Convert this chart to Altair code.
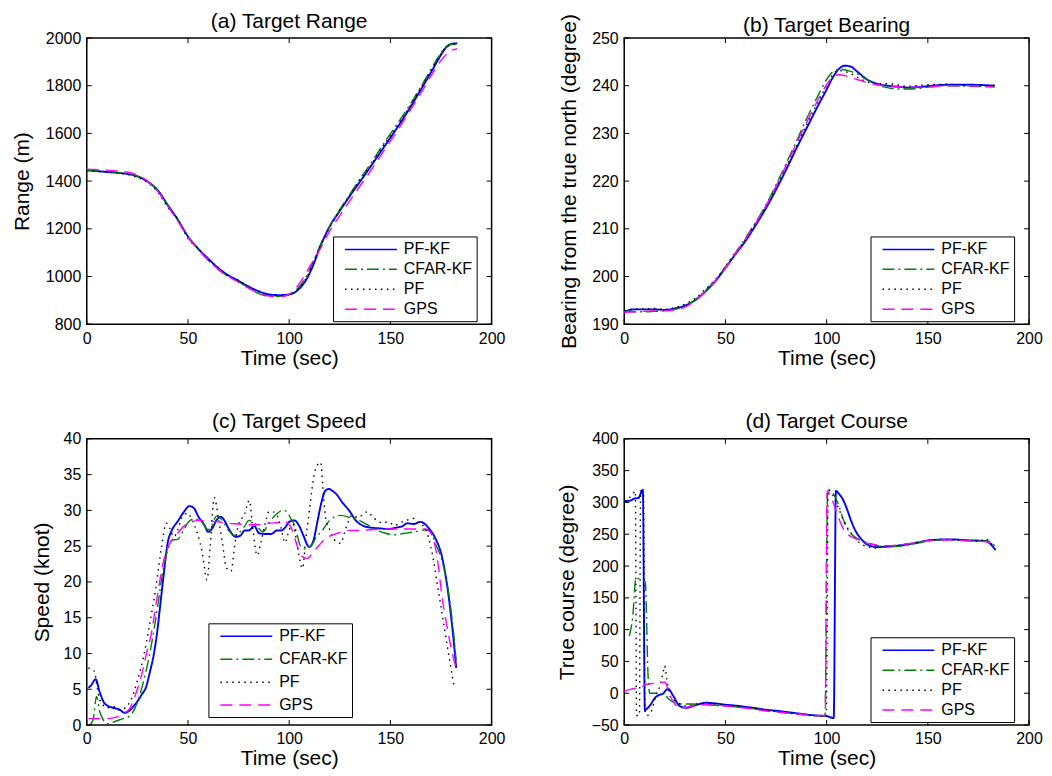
import altair as alt
import pandas as pd

FONT = "Liberation Sans"
METHODS = ["PF-KF", "CFAR-KF", "PF", "GPS"]
COLORS = ["#0000ff", "#008000", "#000000", "#ff00ff"]
DASHES = [[1, 0], [12, 4, 2, 4], [1.5, 4.5], [12, 7]]
XTICKS = [0, 50, 100, 150, 200]

# ---------------- (a) Target Range ----------------
range_pfkf_t = [0, 5, 10, 15, 20, 25, 30, 35, 40, 45, 50, 55, 60, 65, 70, 75, 80, 85, 90, 95, 100, 103, 106, 109, 112, 115, 120, 125, 130, 135, 140, 145, 150, 155, 160, 165, 170, 174, 177, 180, 183]
range_pfkf = [1445, 1442, 1438, 1435, 1430, 1420, 1398, 1362, 1300, 1238, 1168, 1117, 1075, 1035, 1005, 982, 958, 938, 925, 922, 925, 935, 958, 995, 1050, 1118, 1210, 1275, 1338, 1398, 1458, 1520, 1582, 1645, 1712, 1783, 1855, 1915, 1955, 1975, 1978]
range_cfar_t = [0, 5, 10, 15, 20, 25, 30, 35, 40, 45, 50, 55, 60, 65, 70, 75, 80, 85, 90, 95, 100, 103, 106, 109, 112, 115, 120, 125, 130, 135, 140, 145, 150, 155, 160, 165, 170, 174, 177, 180, 183]
range_cfar = [1445, 1443, 1440, 1437, 1432, 1422, 1400, 1360, 1297, 1235, 1165, 1113, 1068, 1028, 1000, 978, 952, 928, 917, 917, 925, 940, 968, 1010, 1065, 1125, 1210, 1280, 1345, 1410, 1470, 1535, 1598, 1660, 1725, 1795, 1868, 1925, 1960, 1973, 1975]
range_pf_t = [0, 5, 10, 15, 20, 25, 30, 35, 40, 45, 50, 55, 60, 65, 70, 75, 80, 85, 90, 95, 100, 103, 106, 109, 112, 115, 120, 125, 130, 135, 140, 145, 150, 155, 160, 165, 170, 174, 177, 180, 183]
range_pf = [1446, 1441, 1439, 1433, 1428, 1415, 1395, 1355, 1290, 1240, 1160, 1118, 1070, 1038, 1000, 984, 955, 936, 920, 919, 923, 937, 962, 1002, 1060, 1120, 1205, 1278, 1340, 1405, 1462, 1530, 1590, 1650, 1718, 1790, 1862, 1920, 1958, 1972, 1976]
range_gps_t = [0, 5, 10, 15, 20, 25, 30, 35, 40, 45, 50, 55, 60, 65, 70, 75, 80, 85, 90, 95, 98, 101, 104, 107, 110, 115, 120, 125, 130, 135, 140, 145, 150, 155, 160, 165, 170, 175, 178, 181, 183]
range_gps = [1450, 1448, 1446, 1443, 1438, 1425, 1400, 1358, 1295, 1232, 1165, 1115, 1070, 1030, 1000, 975, 950, 930, 918, 915, 918, 932, 958, 995, 1040, 1110, 1190, 1255, 1318, 1380, 1440, 1505, 1568, 1632, 1700, 1768, 1840, 1905, 1935, 1950, 1955]

# ---------------- (b) Target Bearing ----------------
bear_pfkf_t = [0, 5, 10, 15, 20, 25, 30, 35, 40, 45, 50, 55, 60, 65, 70, 75, 80, 85, 90, 95, 100, 103, 106, 109, 112, 115, 120, 125, 130, 135, 140, 145, 150, 155, 160, 170, 183]
bear_pfkf = [192.6, 193.1, 193.1, 193.1, 193.0, 193.3, 193.9, 195.0, 196.8, 199.0, 201.8, 204.7, 207.5, 210.8, 214.3, 218.2, 222.4, 226.8, 231.0, 235.2, 239.2, 241.7, 243.5, 244.2, 244.0, 243.0, 241.3, 240.4, 240.0, 239.8, 239.6, 239.7, 239.9, 240.1, 240.2, 240.2, 240.0]
bear_cfar_t = [0, 5, 10, 15, 20, 25, 30, 35, 40, 45, 50, 55, 60, 65, 70, 75, 80, 85, 90, 95, 100, 103, 106, 108, 111, 115, 120, 125, 130, 135, 140, 145, 150, 160, 170, 183]
bear_cfar = [192.7, 192.6, 192.6, 192.7, 192.8, 193.1, 193.8, 195.1, 197.0, 199.3, 202.0, 205.0, 208.1, 211.4, 215.0, 219.2, 223.7, 228.3, 233.0, 237.3, 241.3, 242.9, 243.4, 243.4, 243.1, 242.5, 241.2, 240.2, 239.6, 239.3, 239.3, 239.4, 239.7, 240.0, 239.9, 239.8]
bear_pf_t = [0, 5, 10, 15, 20, 25, 30, 35, 40, 45, 50, 55, 60, 65, 70, 75, 80, 85, 90, 95, 100, 103, 106, 109, 112, 115, 120, 125, 130, 140, 150, 160, 170, 183]
bear_pf = [192.8, 193.2, 193.2, 193.3, 193.1, 193.5, 194.2, 195.4, 197.3, 199.3, 202.1, 205.0, 207.9, 211.3, 214.6, 218.6, 223.0, 227.3, 231.8, 236.0, 240.0, 242.3, 243.2, 243.0, 242.5, 241.8, 240.8, 240.4, 240.4, 239.9, 240.2, 240.3, 240.1, 240.1]
bear_gps_t = [0, 5, 10, 15, 20, 25, 30, 35, 40, 45, 50, 55, 60, 65, 70, 75, 80, 85, 90, 95, 100, 103, 106, 110, 115, 120, 125, 130, 140, 150, 160, 170, 183]
bear_gps = [192.5, 192.6, 192.7, 192.8, 192.8, 193.0, 193.6, 194.9, 196.8, 199.1, 201.8, 204.8, 207.9, 211.2, 214.8, 218.9, 223.3, 227.8, 232.2, 236.4, 240.2, 241.8, 242.3, 242.0, 241.3, 240.7, 240.2, 239.9, 239.7, 239.8, 240.0, 240.0, 239.7]

# ---------------- (c) Target Speed ----------------
speed_pfkf_t = [0.8, 2, 4.4, 6.4, 8.9, 13, 16, 18.7, 21, 23, 25, 27, 29.4, 31, 33.5, 35, 36, 38, 40, 42, 45, 48, 50.7, 53, 55, 58, 60, 62, 64, 66.3, 68, 70, 73.7, 76, 78, 80, 82.7, 85.2, 88.5, 91, 94, 96, 98, 100, 102.5, 105, 107, 109.9, 112, 114, 116, 118, 119.7, 121, 123.8, 126, 129.6, 132.9, 137, 140, 144.3, 149, 153, 156, 158.3, 161.5, 164.8, 167, 169, 172.2, 175.5, 177.5, 179.6, 181, 182.5]
speed_pfkf = [5.2, 5.5, 6.4, 4.6, 3.0, 2.4, 2.2, 1.7, 2.0, 2.6, 3.3, 4.2, 5.4, 7.2, 10.5, 13.5, 16, 21, 25.5, 27.2, 28.5, 29.8, 30.6, 30.3, 29.2, 28, 27, 27.5, 28.6, 29.1, 28.6, 27.5, 26.3, 26.5, 27.2, 27.2, 27.8, 26.8, 26.7, 26.7, 27.2, 27.2, 27.6, 28.4, 28.6, 27.8, 26.5, 24.9, 25.8, 28.5, 31.2, 32.8, 33.0, 32.8, 32.1, 31.2, 30.0, 28.6, 27.8, 27.6, 27.5, 27.4, 27.6, 27.8, 28.2, 28.1, 28.4, 28.1, 27.5, 26.1, 23.5, 20.5, 16.1, 12.5, 8.0]
speed_cfar_t = [1.5, 3.2, 4.8, 6.4, 8, 10, 12, 15, 18, 21, 24, 27, 29, 31, 33, 35, 37, 40, 42, 45, 48, 50, 53, 57, 60, 62, 64, 67, 70, 73, 75, 78, 80, 83, 87, 90, 93, 96.7, 99, 100.5, 102.5, 104, 105.8, 108, 111.5, 113, 116.4, 120, 125.4, 130, 136, 141, 147.6, 152, 157, 162, 167.3, 170, 172, 175.5, 178.8, 181, 182.5]
speed_cfar = [0, 0.8, 4.0, 1.9, 0.8, 0.2, 0.3, 0.6, 0.9, 1.2, 2.5, 5, 7.2, 9.8, 13, 16.5, 20.5, 24.5, 25.8, 26, 27.3, 28.3, 28.8, 28.3, 27.3, 28, 29.2, 28.6, 27.2, 26.5, 26.8, 27.8, 28.6, 28.2, 27.0, 28.3, 29.3, 30.0, 29.8, 29, 28, 26.5, 24.9, 24.6, 25.3, 26.1, 27.2, 28.6, 29.3, 29.0, 28.4, 27.6, 26.8, 26.6, 26.8, 27.0, 27.3, 27.0, 25.5, 23.0, 18.4, 13.5, 9.0]
speed_pf_t = [0.8, 2, 3.8, 5, 6.5, 8, 10, 13, 16, 19, 22, 25, 28, 31, 34, 37, 39.3, 41, 43, 45, 47, 50, 52, 55, 57, 59.4, 61, 63, 65, 67, 69, 71.3, 73, 75, 78, 80.3, 82, 84.2, 86, 88, 90, 92, 94, 96, 98, 100, 102, 104, 106.6, 108.2, 110, 111.5, 113.6, 115.6, 116.5, 118, 120, 122, 125.4, 128, 131, 134, 138.6, 141, 143.6, 146, 149, 152, 155, 158, 161, 164, 167, 169, 171, 173, 175, 177, 179, 181.5]
speed_pf = [8, 7.8, 7.5, 5.5, 3.5, 2.8, 2.4, 2.6, 2.1, 2.4, 3.6, 6.2, 9.5, 14, 19, 25, 28.2, 27.5, 26.3, 27.3, 29, 29.6, 28.6, 26.5, 24.2, 20.3, 25, 31.8, 29, 25.5, 22, 21.5, 25, 28, 29.5, 31.4, 27.5, 23.7, 25.5, 28, 29.8, 29.8, 29.3, 27.5, 25.5, 27.3, 28, 25, 21.9, 26, 30, 33.5, 36.2, 36.7, 33.7, 29, 27.3, 26, 25.4, 27.5, 29.3, 29, 29.8, 29.2, 28.5, 28.3, 28.4, 27.9, 28.3, 28.6, 28.9, 28.2, 27.6, 26, 23.5, 20, 16.5, 13, 9.5, 5.3]
speed_gps_t = [0.8, 5, 10, 14.6, 18, 21.2, 24, 27.7, 29.5, 31.9, 34, 36, 38, 40, 42, 45, 48, 50, 53, 56, 60, 65, 70, 75, 80, 85, 90, 95, 98, 99.5, 101.6, 104, 106, 109, 112, 115, 118, 122, 126, 130, 134.5, 140, 150, 160, 165, 167.3, 169, 170.5, 172.2, 173.8, 175.5, 177.5, 179.5, 181, 182.5]
speed_gps = [0.9, 0.9, 0.9, 1.1, 1.6, 2.3, 4.2, 7.7, 10, 12.8, 16.5, 20, 23, 24.8, 25.8, 26.8, 27.8, 28.2, 28.5, 28.6, 28.5, 28.4, 28.2, 28.1, 28.0, 28.0, 28.2, 28.3, 28.4, 28.2, 27.2, 25, 23.6, 23.3, 24.2, 25.2, 26.1, 26.6, 27.0, 27.2, 27.2, 27.3, 27.4, 27.4, 27.4, 27.4, 27.2, 26.5, 24.9, 22, 17.9, 14.5, 11.5, 9.5, 8.0]

# ---------------- (d) Target Course ----------------
course_pfkf_t = [0, 3, 5, 7, 9.2, 10.2, 11, 13, 15, 17, 19, 21.7, 24, 27.4, 30.7, 35, 40.6, 45, 50, 55, 60, 65, 70, 75, 80, 85, 90, 95, 100, 103.5, 104.6, 106, 108, 110, 112, 114.5, 117, 120, 125, 130, 135, 140, 145, 150.6, 155, 160, 165, 170, 175, 178.5, 180.5, 182, 183.5]
course_pfkf = [302, 303, 306, 307, 320, -27, -25, -18, -8, -3, -1, 7, -3, -20, -23, -19, -15, -16, -18, -19.5, -21.5, -23.5, -26, -27.5, -29.5, -31.5, -33.5, -35, -36, -39, 318, 314, 305, 290, 272, 254, 243, 234, 230, 230.5, 232, 234, 237, 240.5, 241.5, 242, 241.5, 240.5, 240, 239.5, 236, 231, 225]
course_cfar_t = [2.5, 4.2, 5.8, 8, 10.4, 11.8, 12.6, 15, 17.5, 20, 22, 24.6, 28, 33.6, 40, 45, 50, 55, 60, 65, 70, 75, 80, 85, 90, 95, 99.2, 100.5, 102, 104, 106, 108, 110, 113, 116, 120, 125, 130, 135, 140, 145, 150, 155, 160, 165, 170, 175, 180, 183]
course_cfar = [90, 120, 181, 179, 175, 27, 0, 0, 0, -2, -9, -14.5, -17, -17, -18, -19, -20, -21.5, -23, -25, -27, -29, -30.5, -32, -33.5, -35, -36, 320, 318, 310, 295, 275, 260, 248, 242, 237, 232, 230, 231, 233, 236, 239, 241, 241.5, 241, 240, 239.5, 239, 232]
course_pf_t = [0, 2, 4, 5.5, 6.1, 7.5, 8.1, 9.5, 10.3, 11.3, 13.5, 15.5, 17.6, 19.2, 20, 21, 22.7, 26, 31, 36, 42, 48, 55, 62, 70, 78, 86, 92, 97, 99.8, 100.8, 102, 104, 106, 108, 110, 112, 115, 118, 121, 124, 128, 134, 140, 146, 152, 158, 164, 170, 176, 178.5, 181, 183]
course_pf = [303, 306, 312, 318, -35, -35, 318, 316, -30, -35, -28, -5, 11, 32, 43, 23, -5, -14, -20, -17, -16, -18, -20, -23, -26, -30, -33, -35, -36, -37, 320, 317, 305, 290, 275, 262, 252, 240, 233, 230, 228, 231, 232, 235, 238, 241, 242, 241, 240, 239, 243, 236, 230]
course_gps_t = [0, 3, 6, 8, 11, 15, 18, 20, 21.7, 23, 25, 28.3, 34, 40, 45, 50, 55, 60, 65, 70, 75, 80, 85, 90, 95, 99.3, 100.2, 102, 104, 106, 108, 110, 113, 116, 120, 125, 130, 135, 140, 145, 150, 155, 160, 165, 170, 175, 179, 181, 183]
course_gps = [3, 6, 8, 9, 14, 15.6, 16.5, 17.7, 6, -6, -17, -23, -20, -18, -19, -20, -21.5, -23.5, -25.5, -28, -29.5, -31, -32.5, -34, -35, -35, 318, 310, 293, 275, 260, 251, 245, 241, 236, 233, 232, 233, 235, 237, 240, 241, 241, 240.5, 239.5, 239, 238, 236, 233]

RANGE_TICKS = [800, 1000, 1200, 1400, 1600, 1800, 2000]
BEAR_TICKS = [190, 200, 210, 220, 230, 240, 250]
SPEED_TICKS = [0, 5, 10, 15, 20, 25, 30, 35, 40]
COURSE_TICKS = [-50, 0, 50, 100, 150, 200, 250, 300, 350, 400]

W, H = 406, 287
TICK = 5
SYMBOL_PATH = "M-1,0M-0.125,0H6.375"


def build_frame(series):
    rows = []
    for name, ts, vs in series:
        for t, v in zip(ts, vs):
            rows.append({"t": t, "v": v, "method": name})
    return pd.DataFrame(rows)


def panel(title, series, ylab, yticks, ydom, legx, legy, ytp, rowpad, toff):
    df = build_frame(series)
    common = dict(format="d", labelFlush=False, labelPadding=6, tickSize=0, domain=False,
                  grid=False, labelFontSize=16, titleFontSize=21, titleFontWeight="normal",
                  labelColor="black", titleColor="black", labelFont=FONT, titleFont=FONT)
    xax = alt.Axis(values=XTICKS, title="Time (sec)", titlePadding=1, **common)
    yax = alt.Axis(values=yticks, title=ylab, titlePadding=ytp, **common)
    xenc = alt.X("t:Q", scale=alt.Scale(domain=[0, 200], nice=False, zero=False), axis=xax)
    yenc = alt.Y("v:Q", scale=alt.Scale(domain=ydom, nice=False, zero=False), axis=yax)
    legend = alt.Legend(title=None, orient="none", legendX=legx, legendY=legy,
                        fillColor="white", strokeColor="black", padding=4,
                        symbolType=SYMBOL_PATH, symbolSize=256, symbolStrokeWidth=1.5,
                        labelOffset=49, labelFont=FONT, labelFontSize=16,
                        labelColor="black", rowPadding=rowpad)
    lines = alt.Chart(df).mark_line(interpolate="monotone").encode(
        x=xenc,
        y=yenc,
        color=alt.Color("method:N", scale=alt.Scale(domain=METHODS, range=COLORS), legend=legend),
        strokeDash=alt.StrokeDash("method:N", scale=alt.Scale(domain=METHODS, range=DASHES), legend=legend),
        strokeWidth=alt.condition(alt.datum.method == "PF-KF", alt.value(1.9), alt.value(1.4)),
    )
    xt = pd.DataFrame({"t": XTICKS})
    yt = pd.DataFrame({"v": yticks})
    rule = dict(color="black", strokeWidth=1)
    t_bottom = alt.Chart(xt).mark_rule(**rule).encode(x=xenc, y=alt.value(H), y2=alt.value(H - TICK))
    t_top = alt.Chart(xt).mark_rule(**rule).encode(x=xenc, y=alt.value(0), y2=alt.value(TICK))
    t_left = alt.Chart(yt).mark_rule(**rule).encode(y=yenc, x=alt.value(0), x2=alt.value(TICK))
    t_right = alt.Chart(yt).mark_rule(**rule).encode(y=yenc, x=alt.value(W), x2=alt.value(W - TICK))
    return alt.layer(lines, t_bottom, t_top, t_left, t_right).properties(
        width=W, height=H,
        title=alt.Title(title, fontSize=21, font=FONT, fontWeight="normal", color="black", offset=toff),
    )


pa = panel("(a) Target Range",
           [("PF-KF", range_pfkf_t, range_pfkf), ("CFAR-KF", range_cfar_t, range_cfar),
            ("PF", range_pf_t, range_pf), ("GPS", range_gps_t, range_gps)],
           "Range (m)", RANGE_TICKS, [800, 2000], 247, 199, 13, 3, -1.5)
pb = panel("(b) Target Bearing",
           [("PF-KF", bear_pfkf_t, bear_pfkf), ("CFAR-KF", bear_cfar_t, bear_cfar),
            ("PF", bear_pf_t, bear_pf), ("GPS", bear_gps_t, bear_gps)],
           "Bearing from the true north (degree)", BEAR_TICKS, [190, 250], 247, 199, 12, 3, -23)
pc = panel("(c) Target Speed",
           [("PF-KF", speed_pfkf_t, speed_pfkf), ("CFAR-KF", speed_cfar_t, speed_cfar),
            ("PF", speed_pf_t, speed_pf), ("GPS", speed_gps_t, speed_gps)],
           "Speed (knot)", SPEED_TICKS, [0, 40], 122, 185, 11, 6, -1.5)
pd_ = panel("(d) Target Course",
            [("PF-KF", course_pfkf_t, course_pfkf), ("CFAR-KF", course_cfar_t, course_cfar),
             ("PF", course_pf_t, course_pf), ("GPS", course_gps_t, course_gps)],
            "True course (degree)", COURSE_TICKS, [-50, 400], 247, 199, 14, 3, -1.5)

ind = dict(color="independent", strokeDash="independent")
left = alt.vconcat(pa, pc, spacing=41).resolve_scale(**ind).resolve_legend(**ind)
right = alt.vconcat(pb, pd_, spacing=41).resolve_scale(**ind).resolve_legend(**ind)
chart = (
    alt.hconcat(left, right, spacing=49)
    .resolve_scale(**ind)
    .resolve_legend(**ind)
    .properties(padding={"left": 2, "top": 0, "right": 0, "bottom": 0}, background="white")
    .configure_view(stroke="black", strokeWidth=1.5)
)

chart.save("out.html", embed_options={"renderer": "svg", "actions": False})
